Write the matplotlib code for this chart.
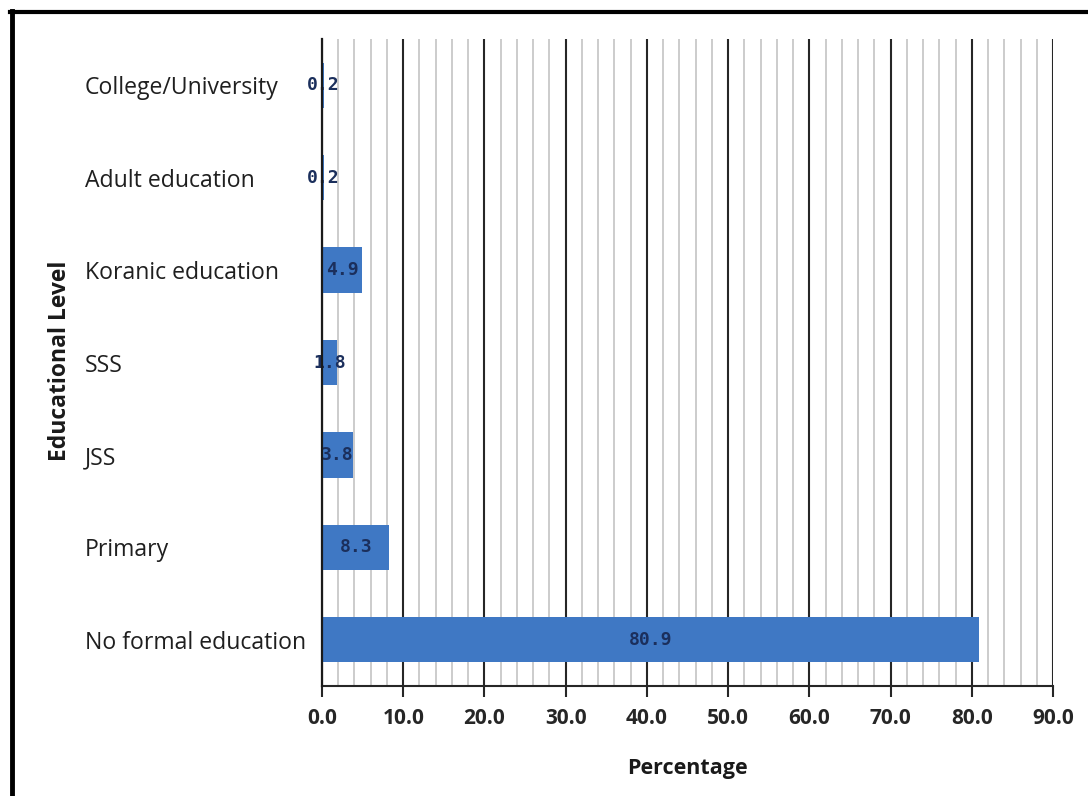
import matplotlib
matplotlib.use("Agg")
import matplotlib.pyplot as plt
from matplotlib.lines import Line2D
from matplotlib.ticker import MultipleLocator

# Educational level of respondents (percent)
categories = ["No formal education", "Primary", "JSS", "SSS",
              "Koranic education", "Adult education", "College/University"]
values = [80.9, 8.3, 3.8, 1.8, 4.9, 0.2, 0.2]
x_ticks = [0, 10, 20, 30, 40, 50, 60, 70, 80, 90]

W, H, DPI = 1088, 796, 100
fig = plt.figure(figsize=(W / DPI, H / DPI), dpi=DPI)
fig.patch.set_facecolor("white")

# plot area in pixel terms
left, right, top, bottom = 322, 1053, 39, 686
ax = fig.add_axes([left / W, 1 - bottom / H, (right - left) / W, (bottom - top) / H])

ypos = list(range(len(categories)))
bar_color = "#3f78c4"
ax.barh(ypos, values, height=0.49, color=bar_color, zorder=3)

for y, v in zip(ypos, values):
    ax.text(v / 2, y, f"{v:.1f}", ha="center", va="center",
            family="DejaVu Sans Mono", fontweight="bold", fontsize=13,
            color="#1b2f5c", zorder=4)

ax.set_xlim(0, 90)
ax.set_ylim(-0.5, len(categories) - 0.5)
ax.xaxis.set_minor_locator(MultipleLocator(2))
ax.set_xticks(x_ticks)
ax.set_xticklabels([f"{t:.1f}" for t in x_ticks], family="Open Sans",
                   fontweight="bold", fontsize=15, color="#262626")

ax.grid(which="minor", axis="x", color="#c8c8c8", lw=1.3, zorder=1)
ax.grid(which="major", axis="x", color="#262626", lw=1.5, zorder=2)
ax.set_axisbelow(True)

ax.set_yticks(ypos)
ax.set_yticklabels(categories, family="Open Sans", fontsize=16.6, color="#1f1f1f", ha="left")
ax.tick_params(axis="y", length=0, pad=(left - 85) * 72 / DPI)
ax.tick_params(axis="x", which="major", direction="out", length=8, width=1.5,
               color="#262626", pad=8)
ax.tick_params(axis="x", which="minor", length=0)

for s in ["top", "right"]:
    ax.spines[s].set_visible(False)
ax.spines["left"].set_color("#1a1a1a")
ax.spines["left"].set_linewidth(1.6)
ax.spines["bottom"].set_color("#262626")
ax.spines["bottom"].set_linewidth(1.5)
ax.spines["left"].set_zorder(5)

ax.set_xlabel("Percentage", family="Open Sans", fontweight="bold", fontsize=15.5,
              color="#1a1a1a", labelpad=21)
fig.text(60 / W, 1 - 361 / H, "Educational Level", rotation=90, ha="center",
         va="center", family="Open Sans", fontweight="bold", fontsize=16.5, color="#1a1a1a")

# outer frame edges
fig.add_artist(Line2D([12 / W, 12 / W], [0, 1 - 11 / H], color="black", lw=3.5,
                      transform=fig.transFigure))
fig.add_artist(Line2D([10 / W, 1], [1 - 12 / H, 1 - 12 / H], color="black", lw=3,
                      transform=fig.transFigure))

fig.savefig("out.png", dpi=DPI)
